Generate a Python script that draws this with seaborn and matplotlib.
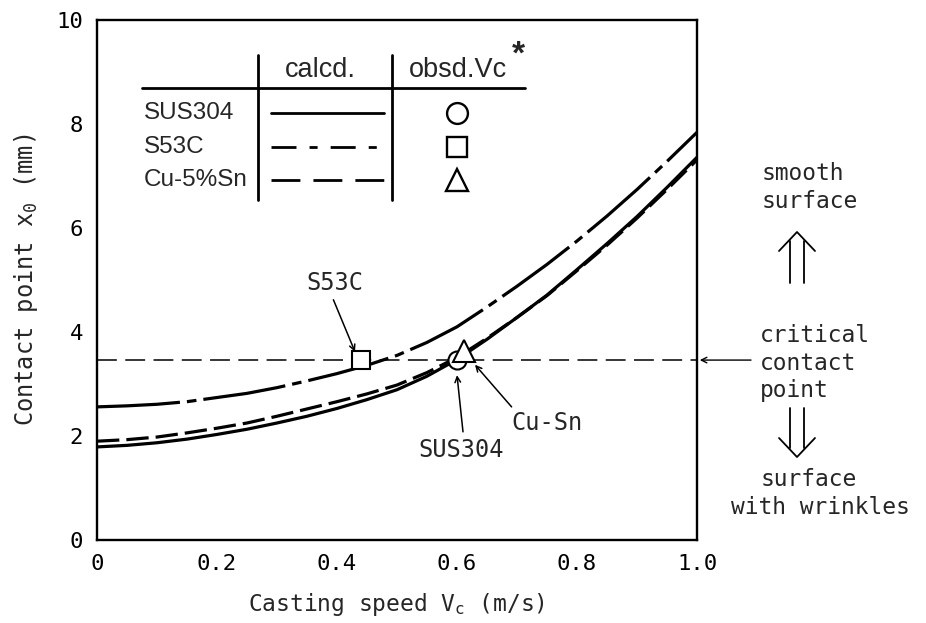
import numpy as np
import pandas as pd
import matplotlib
matplotlib.use("Agg")
import matplotlib.pyplot as plt
from matplotlib.lines import Line2D
import seaborn as sns

# ---- data ----
vc = [0.00, 0.05, 0.10, 0.15, 0.20, 0.25, 0.30, 0.35, 0.40, 0.45, 0.50,
      0.55, 0.60, 0.65, 0.70, 0.75, 0.80, 0.85, 0.90, 0.95, 1.00]
x0_sus304 = [1.79, 1.82, 1.87, 1.94, 2.03, 2.13, 2.25, 2.38, 2.53, 2.70, 2.89,
             3.15, 3.47, 3.86, 4.28, 4.71, 5.20, 5.70, 6.22, 6.78, 7.36]
x0_s53c = [2.56, 2.58, 2.61, 2.66, 2.74, 2.82, 2.93, 3.06, 3.20, 3.36, 3.55,
           3.80, 4.10, 4.48, 4.88, 5.30, 5.75, 6.23, 6.74, 7.28, 7.84]
x0_cusn = [1.90, 1.93, 1.98, 2.06, 2.15, 2.25, 2.38, 2.52, 2.66, 2.81, 2.98,
           3.22, 3.51, 3.88, 4.28, 4.70, 5.18, 5.67, 6.19, 6.74, 7.31]
materials = ["SUS304", "S53C", "Cu-5%Sn"]
obs_vc = [0.600, 0.440, 0.612]
obs_x0 = [3.46, 3.46, 3.64]
critical_x0 = 3.46
xticks = [0, 0.2, 0.4, 0.6, 0.8, 1.0]
xticklabels = ["0", "0.2", "0.4", "0.6", "0.8", "1.0"]
yticks = [0, 2, 4, 6, 8, 10]

sns.set_style("white")
plt.rcParams["font.family"] = ["DejaVu Sans Mono", "DejaVu Sans"]
plt.rcParams["mathtext.fontset"] = "custom"
plt.rcParams["mathtext.rm"] = "DejaVu Sans Mono"
plt.rcParams["mathtext.it"] = "DejaVu Sans Mono"

W, H = 926, 623
fig = plt.figure(figsize=(W / 100, H / 100), dpi=100)
ax = fig.add_axes([97 / W, 1 - 540 / H, 600 / W, 520 / H])

n = len(vc)
df = pd.DataFrame({
    "vc": vc * 3,
    "x0": x0_sus304 + x0_s53c + x0_cusn,
    "mat": ["SUS304"] * n + ["S53C"] * n + ["Cu-5%Sn"] * n,
})
obs = pd.DataFrame({"vc": obs_vc, "x0": obs_x0, "mat": materials})

styles = {
    "SUS304": "-",
    "S53C": (0, (26, 2.2, 3, 2.2)),
    "Cu-5%Sn": (0, (7, 2.2)),
}
leg_styles = {
    "SUS304": "-",
    "S53C": (0, (9, 4.7, 2.9, 4.7)),
    "Cu-5%Sn": (0, (10.4, 4.7)),
}
markers = {"SUS304": "o", "S53C": "s", "Cu-5%Sn": "^"}
msizes = {"SUS304": 13, "S53C": 13, "Cu-5%Sn": 16}

for m in ["Cu-5%Sn", "S53C", "SUS304"]:
    sub = df[df["mat"] == m]
    sns.lineplot(data=sub, x="vc", y="x0", ax=ax, color="black", lw=2.3,
                 linestyle=styles[m], legend=False, zorder=3)

ax.axhline(critical_x0, color="black", lw=1.1, linestyle=(0, (13, 5.5)), zorder=2)

for m in materials:
    sub = obs[obs["mat"] == m]
    ax.plot(sub["vc"], sub["x0"], marker=markers[m], ms=msizes[m],
            mfc="white", mec="black", mew=1.5, linestyle="none", zorder=5)

ax.set_xlim(0, 1.0)
ax.set_ylim(0, 10)
ax.set_xticks(xticks)
ax.set_xticklabels(xticklabels)
ax.set_yticks(yticks)
ax.tick_params(axis="both", direction="in", length=13, width=1.2, labelsize=16,
               colors="black", top=False, right=False)
ax.tick_params(axis="x", pad=10)
ax.tick_params(axis="y", pad=10)
for s in ax.spines.values():
    s.set_visible(True)
    s.set_color("black")
    s.set_linewidth(1.7)

ax.set_xlabel("Casting speed V$_\\mathrm{c}$ (m/s)", fontsize=16.5, labelpad=12)
ax.set_ylabel("Contact point x$_0$ (mm)", fontsize=17, labelpad=12)

# point annotations
arrow_kw = dict(arrowstyle="->", color="black", lw=1.1, shrinkA=0, shrinkB=0)
ax.text(0.397, 4.95, "S53C", fontsize=17, ha="center", va="center")
ax.annotate("", xy=(0.430, 3.62), xytext=(0.394, 4.62), arrowprops=arrow_kw)
ax.text(0.607, 1.73, "SUS304", fontsize=17, ha="center", va="center")
ax.annotate("", xy=(0.600, 3.17), xytext=(0.610, 2.08), arrowprops=arrow_kw)
ax.text(0.750, 2.25, "Cu-Sn", fontsize=17, ha="center", va="center")
ax.annotate("", xy=(0.630, 3.37), xytext=(0.691, 2.56), arrowprops=arrow_kw)

# right side annotations
ax.annotate("", xy=(1.0, critical_x0), xycoords=("axes fraction", "data"),
            xytext=(1.09, critical_x0), textcoords=("axes fraction", "data"),
            arrowprops=dict(arrowstyle="->", color="black", lw=1.0, shrinkA=0, shrinkB=2),
            annotation_clip=False)

def fx(px):
    return px / W

def fy(py):
    return 1 - py / H

rt = 16.5
fig.text(fx(762), fy(173), "smooth", fontsize=rt, ha="left", va="center")
fig.text(fx(762), fy(202), "surface", fontsize=rt, ha="left", va="center")
fig.text(fx(760), fy(335), "critical", fontsize=rt, ha="left", va="center")
fig.text(fx(760), fy(363), "contact", fontsize=rt, ha="left", va="center")
fig.text(fx(760), fy(391), "point", fontsize=rt, ha="left", va="center")
fig.text(fx(809), fy(480), "surface", fontsize=rt, ha="center", va="center")
fig.text(fx(820), fy(508), "with wrinkles", fontsize=rt, ha="center", va="center")

def fline(xs, ys):
    fig.add_artist(Line2D([fx(v) for v in xs], [fy(v) for v in ys],
                          transform=fig.transFigure, color="black", lw=1.3))

# up double arrow
fline([790, 790], [283, 241])
fline([804, 804], [283, 241])
fline([779, 797, 815], [251, 232, 251])
# down double arrow
fline([790, 790], [408, 448])
fline([804, 804], [408, 448])
fline([779, 797, 815], [438, 457, 438])

# table-style legend (axes fraction coordinates)
tf = {"family": ["Liberation Sans", "DejaVu Sans"]}
ax.plot([0.075, 0.713], [0.869, 0.869], transform=ax.transAxes, color="black", lw=2.0)
ax.plot([0.268, 0.268], [0.933, 0.654], transform=ax.transAxes, color="black", lw=2.0)
ax.plot([0.491, 0.491], [0.933, 0.654], transform=ax.transAxes, color="black", lw=2.0)
ax.text(0.373, 0.903, "calcd.", transform=ax.transAxes, fontsize=19.5, ha="center",
        va="center", fontdict=tf)
ax.text(0.602, 0.903, "obsd.Vc", transform=ax.transAxes, fontsize=19.5, ha="center",
        va="center", fontdict=tf)
ax.text(0.702, 0.932, "*", transform=ax.transAxes, fontsize=24, ha="center",
        va="center", fontdict=tf, fontweight="bold")
row_y = [0.821, 0.756, 0.692]
for m, yy in zip(materials, row_y):
    ax.text(0.078, yy, m, transform=ax.transAxes, fontsize=17.5, ha="left",
            va="center", fontdict=tf)
    ax.plot([0.290, 0.478], [yy, yy], transform=ax.transAxes, color="black",
            lw=2.0, linestyle=leg_styles[m])
    ax.plot([0.600], [yy], transform=ax.transAxes, marker=markers[m],
            ms=15 if m != "Cu-5%Sn" else 16,
            mfc="white", mec="black", mew=1.7, linestyle="none")

fig.savefig("out.png", dpi=100, facecolor="white")
